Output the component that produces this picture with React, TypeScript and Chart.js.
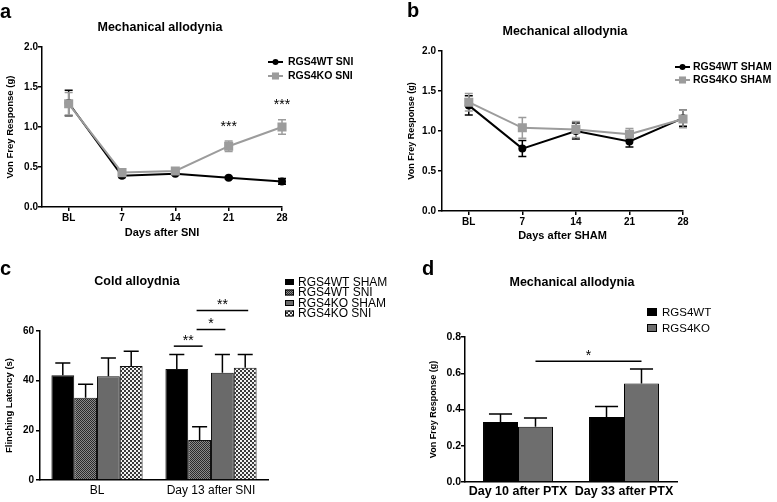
import React, { useEffect, useRef } from "react";
import { Chart, registerables } from "chart.js";

Chart.register(...registerables);

const FONT = "'Liberation Sans', Arial, Helvetica, sans-serif";

// ---------------- data ----------------
// panel a / b : time course
const dayValues = [0, 7, 14, 21, 28];
const dayTickLabels = ["BL", "7", "14", "21", "28"];

const sniWT = [1.3, 0.39, 0.415, 0.365, 0.32];
const sniWTErr = [0.16, 0.02, 0.015, 0.015, 0.035];
const sniKO = [1.29, 0.43, 0.45, 0.76, 1.0];
const sniKOErr = [0.14, 0.02, 0.02, 0.065, 0.09];
const sniStarText = ["", "", "", "***", "***"];
const sniStarLevel = [0, 0, 0, 1.03, 1.31];

const shamWT = [1.32, 0.78, 1.0, 0.87, 1.16];
const shamWTErr = [0.12, 0.1, 0.1, 0.07, 0.1];
const shamKO = [1.36, 1.04, 1.02, 0.96, 1.15];
const shamKOErr = [0.11, 0.13, 0.1, 0.07, 0.11];

// panel c : cold allodynia
const coldGroups = ["BL", "Day 13 after SNI"];
const coldWTSham = [42.2, 44.7];
const coldWTShamErr = [4.9, 5.8];
const coldWTSni = [33.1, 16.1];
const coldWTSniErr = [5.5, 5.3];
const coldKOSham = [41.8, 43.2];
const coldKOShamErr = [7.3, 7.3];
const coldKOSni = [45.9, 45.2];
const coldKOSniErr = [5.9, 5.3];
const coldSigGroup = [1, 1, 1];
const coldSigFrom = [0, 1, 1];
const coldSigTo = [1, 2, 3];
const coldSigLevel = [53.9, 60.6, 68.3];
const coldSigText = ["**", "*", "**"];

// panel d : PTX
const ptxGroups = ["Day 10 after PTX", "Day 33 after PTX"];
const ptxWT = [0.331, 0.359];
const ptxWTErr = [0.044, 0.058];
const ptxKO = [0.305, 0.543];
const ptxKOErr = [0.048, 0.08];
const ptxSigFrom = [0, 1]; // [group, dataset]
const ptxSigTo = [1, 1];
const ptxSigLevel = 0.666;
const ptxSigText = "*";

// ---------------- helpers ----------------
const fnt = (size: number, weight: string = "bold") => ({ family: FONT, size, weight, lineHeight: 1.2 });

function axisY(min: number, max: number, step: number, width: number, title: string, titleSize: number, titlePad: number, tickSize: number, tickPad: number, fmt: (v: number) => string) {
  return {
    min,
    max,
    afterFit: (s: any) => { s.width = width; },
    ticks: { stepSize: step, font: fnt(tickSize), color: "#000", padding: tickPad, callback: (v: any) => fmt(Number(v)) },
    grid: { drawOnChartArea: false, drawTicks: true, tickLength: 4, color: "#000", lineWidth: 1.5 },
    border: { display: true, color: "#000", width: 1.5 },
    title: { display: true, text: title, font: fnt(titleSize), color: "#000", padding: { top: titlePad, bottom: 0 } },
  };
}

function axisDays(title: string, height: number) {
  return {
    type: "linear",
    min: -3.5,
    max: 28,
    afterBuildTicks: (s: any) => { s.ticks = dayValues.map((v) => ({ value: v })); },
    afterFit: (s: any) => { s.height = height; },
    ticks: {
      font: fnt(10), color: "#000", padding: 1, autoSkip: false, maxRotation: 0,
      callback: (v: any) => { const i = dayValues.indexOf(Number(v)); return i >= 0 ? dayTickLabels[i] : ""; },
    },
    grid: { drawOnChartArea: false, drawTicks: true, tickLength: 4, color: "#000", lineWidth: 1.5 },
    border: { display: true, color: "#000", width: 1.5 },
    title: { display: true, text: title, font: fnt(11), color: "#000", padding: { top: 0, bottom: 0 } },
  };
}

function axisCat(height: number, size: number, weight: string, pad: number) {
  return {
    type: "category",
    afterFit: (s: any) => { s.height = height; },
    ticks: { font: fnt(size, weight), color: "#000", padding: pad, autoSkip: false, maxRotation: 0 },
    grid: { display: false, drawTicks: false },
    border: { display: true, color: "#000", width: 1.5 },
  };
}

function drawErrors(chart: any, mode: "line" | "bar") {
  const ctx = chart.ctx;
  const ys = chart.scales.y;
  chart.data.datasets.forEach((ds: any, i: number) => {
    const errs = ds.errors;
    if (!errs) return;
    const meta = chart.getDatasetMeta(i);
    ctx.save();
    ctx.strokeStyle = mode === "line" ? ds.borderColor : "#000";
    ctx.lineWidth = 1.5;
    meta.data.forEach((el: any, j: number) => {
      const v = mode === "line" ? ds.data[j].y : ds.data[j];
      const e = errs[j];
      const x = el.x;
      const top = ys.getPixelForValue(v + e);
      const bottom = mode === "line" ? ys.getPixelForValue(v - e) : el.y;
      const cap = mode === "line" ? 4 : el.width * 0.33;
      ctx.beginPath();
      ctx.moveTo(x, top); ctx.lineTo(x, bottom);
      ctx.moveTo(x - cap, top); ctx.lineTo(x + cap, top);
      if (mode === "line") { ctx.moveTo(x - cap, bottom); ctx.lineTo(x + cap, bottom); }
      ctx.stroke();
    });
    ctx.restore();
  });
}

function extras(cfg: { letter: [string, number, number]; title: [string, number, number]; mode: "line" | "bar"; draw?: (chart: any) => void }) {
  return {
    id: "extras",
    beforeDatasetsDraw(chart: any) { if (cfg.mode === "line") drawErrors(chart, "line"); },
    afterDatasetsDraw(chart: any) { if (cfg.mode === "bar") drawErrors(chart, "bar"); },
    afterDraw(chart: any) {
      const ctx = chart.ctx;
      ctx.save();
      ctx.fillStyle = "#000";
      ctx.font = `bold 20px ${FONT}`;
      ctx.textAlign = "left";
      ctx.textBaseline = "alphabetic";
      ctx.fillText(cfg.letter[0], cfg.letter[1], cfg.letter[2]);
      ctx.font = `bold 12.5px ${FONT}`;
      ctx.textAlign = "center";
      ctx.textBaseline = "middle";
      ctx.fillText(cfg.title[0], cfg.title[1], cfg.title[2]);
      ctx.restore();
      if (cfg.draw) cfg.draw(chart);
    },
  };
}

function lineLegend(chart: any, x0: number, x1: number, tx: number, rows: number[], size: number) {
  const ctx = chart.ctx;
  ctx.save();
  chart.data.datasets.forEach((ds: any, i: number) => {
    const y = rows[i];
    ctx.strokeStyle = ds.borderColor;
    ctx.fillStyle = ds.borderColor;
    ctx.lineWidth = 2;
    ctx.beginPath(); ctx.moveTo(x0, y); ctx.lineTo(x1, y); ctx.stroke();
    const cx = (x0 + x1) / 2;
    if (ds.pointStyle === "rect") {
      const h = ds.pointRadius * Math.SQRT1_2;
      ctx.fillRect(cx - h, y - h, 2 * h, 2 * h);
    } else {
      ctx.beginPath(); ctx.arc(cx, y, ds.pointRadius, 0, Math.PI * 2); ctx.fill();
    }
    ctx.fillStyle = "#000";
    ctx.font = `bold ${size}px ${FONT}`;
    ctx.textAlign = "left";
    ctx.textBaseline = "middle";
    ctx.fillText(ds.label, tx, y + 0.5);
  });
  ctx.restore();
}

function boxLegend(chart: any, bx: number, bw: number, bh: number, tx: number, rows: number[], size: number) {
  const ctx = chart.ctx;
  ctx.save();
  chart.data.datasets.forEach((ds: any, i: number) => {
    const y = rows[i];
    ctx.fillStyle = ds.backgroundColor;
    ctx.fillRect(bx, y - bh / 2, bw, bh);
    ctx.strokeStyle = "#000";
    ctx.lineWidth = 1;
    ctx.strokeRect(bx + 0.5, y - bh / 2 + 0.5, bw - 1, bh - 1);
    ctx.fillStyle = "#000";
    ctx.font = `${size}px ${FONT}`;
    ctx.textAlign = "left";
    ctx.textBaseline = "middle";
    ctx.fillText(ds.label, tx, y + 0.5);
  });
  ctx.restore();
}

function drawBracket(ctx: any, x1: number, x2: number, y: number, text: string) {
  ctx.save();
  ctx.strokeStyle = "#000";
  ctx.lineWidth = 1.5;
  ctx.beginPath(); ctx.moveTo(x1, y); ctx.lineTo(x2, y); ctx.stroke();
  ctx.fillStyle = "#000";
  ctx.font = `14px ${FONT}`;
  ctx.textAlign = "center";
  ctx.textBaseline = "middle";
  ctx.fillText(text, (x1 + x2) / 2, y - 5);
  ctx.restore();
}

function makePattern(ctx: CanvasRenderingContext2D, cell: number, a: string, b: string) {
  const c = document.createElement("canvas");
  c.width = cell * 2; c.height = cell * 2;
  const g = c.getContext("2d")!;
  g.fillStyle = a; g.fillRect(0, 0, cell * 2, cell * 2);
  g.fillStyle = b; g.fillRect(0, 0, cell, cell); g.fillRect(cell, cell, cell, cell);
  return ctx.createPattern(c, "repeat");
}

const pts = (ys: number[]) => dayValues.map((d, i) => ({ x: d, y: ys[i] }));
const WT_COLOR = "#000000";
const KO_COLOR = "#9c9c9c";

// ---------------- chart configs ----------------
function configA(): any {
  return {
    type: "line",
    data: {
      datasets: [
        { label: "RGS4WT SNI", data: pts(sniWT), errors: sniWTErr, borderColor: WT_COLOR, backgroundColor: WT_COLOR, pointBackgroundColor: WT_COLOR, pointBorderColor: WT_COLOR, pointStyle: "circle", pointRadius: 3, borderWidth: 2, order: 1, clip: false },
        { label: "RGS4KO SNI", data: pts(sniKO), errors: sniKOErr, borderColor: KO_COLOR, backgroundColor: KO_COLOR, pointBackgroundColor: KO_COLOR, pointBorderColor: KO_COLOR, pointStyle: "rect", pointRadius: 5, borderWidth: 2, order: 0, clip: false },
      ],
    },
    options: {
      responsive: false, animation: false, devicePixelRatio: 1,
      layout: { padding: { left: 0, right: 106, top: 47, bottom: 10 } },
      plugins: { legend: { display: false }, tooltip: { enabled: false } },
      scales: {
        x: axisDays("Days after SNI", 33),
        y: axisY(0, 2, 0.5, 42, "Von Frey Response (g)", 9.5, 5, 10, 0, (v) => v.toFixed(1)),
      },
    },
    plugins: [extras({
      letter: ["a", 0, 18], title: ["Mechanical allodynia", 160, 28], mode: "line",
      draw: (chart) => {
        lineLegend(chart, 268, 283, 288, [62, 76], 10.5);
        const ctx = chart.ctx;
        ctx.save();
        ctx.fillStyle = "#000";
        ctx.font = `14px ${FONT}`;
        ctx.textAlign = "center";
        ctx.textBaseline = "middle";
        sniStarText.forEach((t, j) => {
          if (!t) return;
          const x = chart.scales.x.getPixelForValue(dayValues[j]);
          const y = chart.scales.y.getPixelForValue(sniStarLevel[j]);
          ctx.fillText(t, x, y + 3);
        });
        ctx.restore();
      },
    })],
  };
}

function configB(): any {
  return {
    type: "line",
    data: {
      datasets: [
        { label: "RGS4WT SHAM", data: pts(shamWT), errors: shamWTErr, borderColor: WT_COLOR, backgroundColor: WT_COLOR, pointBackgroundColor: WT_COLOR, pointBorderColor: WT_COLOR, pointStyle: "circle", pointRadius: 3, borderWidth: 2, order: 1, clip: false },
        { label: "RGS4KO SHAM", data: pts(shamKO), errors: shamKOErr, borderColor: KO_COLOR, backgroundColor: KO_COLOR, pointBackgroundColor: KO_COLOR, pointBorderColor: KO_COLOR, pointStyle: "rect", pointRadius: 5, borderWidth: 2, order: 0, clip: false },
      ],
    },
    options: {
      responsive: false, animation: false, devicePixelRatio: 1,
      layout: { padding: { left: 0, right: 94, top: 51, bottom: 7 } },
      plugins: { legend: { display: false }, tooltip: { enabled: false } },
      scales: {
        x: axisDays("Days after SHAM", 32),
        y: axisY(0, 2, 0.5, 54, "Von Frey Response (g)", 9, 18, 10, 2, (v) => v.toFixed(1)),
      },
    },
    plugins: [extras({
      letter: ["b", 19, 17], title: ["Mechanical allodynia", 177, 32], mode: "line",
      draw: (chart) => lineLegend(chart, 287, 302, 305, [67, 80], 10.5),
    })],
  };
}

function configC(ctx: CanvasRenderingContext2D): any {
  const wtSniPat = makePattern(ctx, 1, "#8a8a8a", "#2a2a2a");
  const koSniPat = makePattern(ctx, 2, "#f2f2f2", "#3a3a3a");
  const common = { borderColor: "#111", borderWidth: 1, categoryPercentage: 0.8, barPercentage: 1 };
  return {
    type: "bar",
    data: {
      labels: coldGroups,
      datasets: [
        { label: "RGS4WT SHAM", data: coldWTSham, errors: coldWTShamErr, backgroundColor: "#000", ...common },
        { label: "RGS4WT SNI", data: coldWTSni, errors: coldWTSniErr, backgroundColor: wtSniPat, ...common },
        { label: "RGS4KO SHAM", data: coldKOSham, errors: coldKOShamErr, backgroundColor: "#6a6a6a", ...common },
        { label: "RGS4KO SNI", data: coldKOSni, errors: coldKOSniErr, backgroundColor: koSniPat, ...common },
      ],
    },
    options: {
      responsive: false, animation: false, devicePixelRatio: 1,
      layout: { padding: { left: 0, right: 120, top: 81, bottom: 2 } },
      plugins: { legend: { display: false }, tooltip: { enabled: false } },
      scales: {
        x: axisCat(20, 12, "normal", 3),
        y: axisY(0, 60, 20, 40, "Flinching Latency (s)", 9.5, 4, 10, 2, (v) => String(v)),
      },
    },
    plugins: [extras({
      letter: ["c", 0, 25], title: ["Cold alloydnia", 137, 32], mode: "bar",
      draw: (chart) => {
        boxLegend(chart, 285, 9, 6, 298, [32, 42.5, 53, 63.5], 12);
        const ys = chart.scales.y;
        coldSigText.forEach((t, k) => {
          const g = coldSigGroup[k];
          const a = chart.getDatasetMeta(coldSigFrom[k]).data[g];
          const b = chart.getDatasetMeta(coldSigTo[k]).data[g];
          drawBracket(chart.ctx, a.x - 3, b.x + 3, ys.getPixelForValue(coldSigLevel[k]), t);
        });
      },
    })],
  };
}

function configD(): any {
  const common = { borderColor: "#000", borderWidth: 1, categoryPercentage: 0.66, barPercentage: 1 };
  return {
    type: "bar",
    data: {
      labels: ptxGroups,
      datasets: [
        { label: "RGS4WT", data: ptxWT, errors: ptxWTErr, backgroundColor: "#000", ...common },
        { label: "RGS4KO", data: ptxKO, errors: ptxKOErr, backgroundColor: "#6e6e6e", ...common },
      ],
    },
    options: {
      responsive: false, animation: false, devicePixelRatio: 1,
      layout: { padding: { left: 30, right: 100, top: 87, bottom: 2 } },
      plugins: { legend: { display: false }, tooltip: { enabled: false } },
      scales: {
        x: axisCat(18, 12.5, "bold", 2),
        y: axisY(0, 0.8, 0.2, 47, "Von Frey Response (g)", 9, 10, 10.5, 0, (v) => v.toFixed(1)),
      },
    },
    plugins: [extras({
      letter: ["d", 34, 25], title: ["Mechanical allodynia", 184, 33], mode: "bar",
      draw: (chart) => {
        boxLegend(chart, 259, 10, 8, 274, [62, 78], 11.5);
        const a = chart.getDatasetMeta(ptxSigFrom[1]).data[ptxSigFrom[0]];
        const b = chart.getDatasetMeta(ptxSigTo[1]).data[ptxSigTo[0]];
        drawBracket(chart.ctx, a.x, b.x, chart.scales.y.getPixelForValue(ptxSigLevel), ptxSigText);
      },
    })],
  };
}

// ---------------- components ----------------
function Panel(props: { left: number; top: number; width: number; height: number; make: (ctx: CanvasRenderingContext2D) => any }) {
  const ref = useRef<HTMLCanvasElement>(null);
  useEffect(() => {
    const c = ref.current!;
    const chart = new Chart(c, props.make(c.getContext("2d")!));
    return () => chart.destroy();
  }, []);
  return (
    <canvas
      ref={ref}
      width={props.width}
      height={props.height}
      style={{ position: "absolute", left: props.left, top: props.top, width: props.width, height: props.height }}
    />
  );
}

export default function App() {
  return (
    <div style={{ position: "absolute", left: 0, top: 0, width: 777, height: 502, background: "#fff", overflow: "hidden" }}>
      <Panel left={0} top={0} width={388} height={250} make={() => configA()} />
      <Panel left={388} top={0} width={389} height={250} make={() => configB()} />
      <Panel left={0} top={250} width={388} height={252} make={(ctx) => configC(ctx)} />
      <Panel left={388} top={250} width={389} height={252} make={() => configD()} />
    </div>
  );
}
